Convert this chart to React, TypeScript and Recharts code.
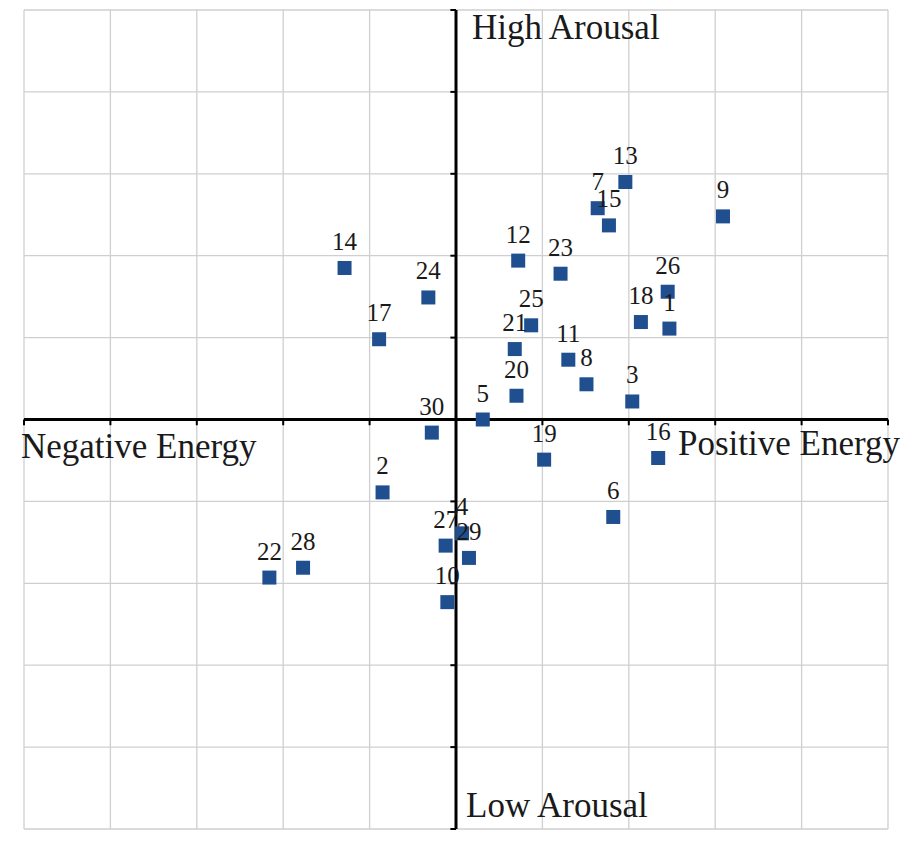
import { ScatterChart, Scatter, XAxis, YAxis, CartesianGrid, ReferenceLine, LabelList } from "recharts";

// point numbers and their positions on the energy / arousal plane
const pointIds = [1, 2, 3, 4, 5, 6, 7, 8, 9, 10, 11, 12, 13, 14, 15, 16, 17, 18, 19, 20, 21, 22, 23, 24, 25, 26, 27, 28, 29, 30];
const energy = [2.47, -0.85, 2.04, 0.07, 0.31, 1.82, 1.64, 1.51, 3.09, -0.1, 1.3, 0.72, 1.96, -1.29, 1.77, 2.34, -0.89, 2.14, 1.02, 0.7, 0.68, -2.16, 1.21, -0.32, 0.87, 2.45, -0.12, -1.77, 0.15, -0.28];
const arousal = [1.11, -0.89, 0.22, -1.39, 0.0, -1.19, 2.58, 0.43, 2.48, -2.23, 0.73, 1.94, 2.9, 1.85, 2.37, -0.47, 0.98, 1.19, -0.49, 0.29, 0.86, -1.93, 1.78, 1.49, 1.15, 1.56, -1.54, -1.81, -1.69, -0.16];

const gridTicks = [-5, -4, -3, -2, -1, 0, 1, 2, 3, 4, 5];
const axisTicks = gridTicks.filter((t) => t !== 0);

const data = pointIds.map((id, i) => ({ id, energy: energy[i], arousal: arousal[i] }));

const FONT = "'Liberation Serif', 'Times New Roman', serif";
const BLUE = "#1f4f8f";
const INK = "#1a1a1a";
const MARKER = 14;
const TICK_X = 0.065; // tick length in energy units
const TICK_Y = 0.07; // tick length in arousal units

function SquareMarker(props: any) {
  const { cx, cy } = props;
  return <rect x={cx - MARKER / 2} y={cy - MARKER / 2} width={MARKER} height={MARKER} fill={BLUE} />;
}

function pointLabel(props: any) {
  const vb = props.viewBox || props;
  const cx = vb.x + (vb.width || 0) / 2;
  const cy = vb.y + (vb.height || 0) / 2;
  return (
    <text x={cx} y={cy - 18} textAnchor="middle" fontFamily={FONT} fontSize={25} fill={INK}>
      {props.value}
    </text>
  );
}

function verticalAxisText(props: any) {
  const { x, y, height } = props.viewBox;
  return (
    <g fontFamily={FONT} fontSize={35} fill={INK}>
      <text x={x + 16} y={y + 29}>High Arousal</text>
      <text x={x + 10} y={y + height - 12}>Low Arousal</text>
    </g>
  );
}

function horizontalAxisText(props: any) {
  const { x, y, width } = props.viewBox;
  return (
    <g fontFamily={FONT} fontSize={35} fill={INK}>
      <text x={x - 3} y={y + 38}>Negative Energy</text>
      <text x={x + width + 12} y={y + 35} textAnchor="end">Positive Energy</text>
    </g>
  );
}

export default function App() {
  return (
    <div style={{ position: "absolute", left: 0, top: 0, width: 908, height: 848, background: "#fff", fontFamily: FONT }}>
      <ScatterChart width={908} height={848} margin={{ top: 10, right: 20, bottom: 19, left: 24 }}>
        <CartesianGrid stroke="#cfcfcf" strokeWidth={1.3} />
        <XAxis type="number" dataKey="energy" domain={[-5, 5]} ticks={gridTicks} hide />
        <YAxis type="number" dataKey="arousal" domain={[-5, 5]} ticks={gridTicks} hide />

        {axisTicks.map((t) => (
          <ReferenceLine
            key={`xt${t}`}
            segment={[{ x: t, y: 0 }, { x: t, y: -TICK_Y }]}
            stroke="#000"
            strokeWidth={2}
          />
        ))}
        {axisTicks.map((t) => (
          <ReferenceLine
            key={`yt${t}`}
            segment={[{ x: 0, y: t }, { x: -TICK_X, y: t }]}
            stroke="#000"
            strokeWidth={2}
          />
        ))}
        <ReferenceLine y={0} stroke="#000" strokeWidth={3} label={horizontalAxisText} />
        <ReferenceLine x={0} stroke="#000" strokeWidth={3} label={verticalAxisText} />

        <Scatter data={data} fill={BLUE} shape={SquareMarker} isAnimationActive={false}>
          <LabelList dataKey="id" content={pointLabel} />
        </Scatter>
      </ScatterChart>
    </div>
  );
}
